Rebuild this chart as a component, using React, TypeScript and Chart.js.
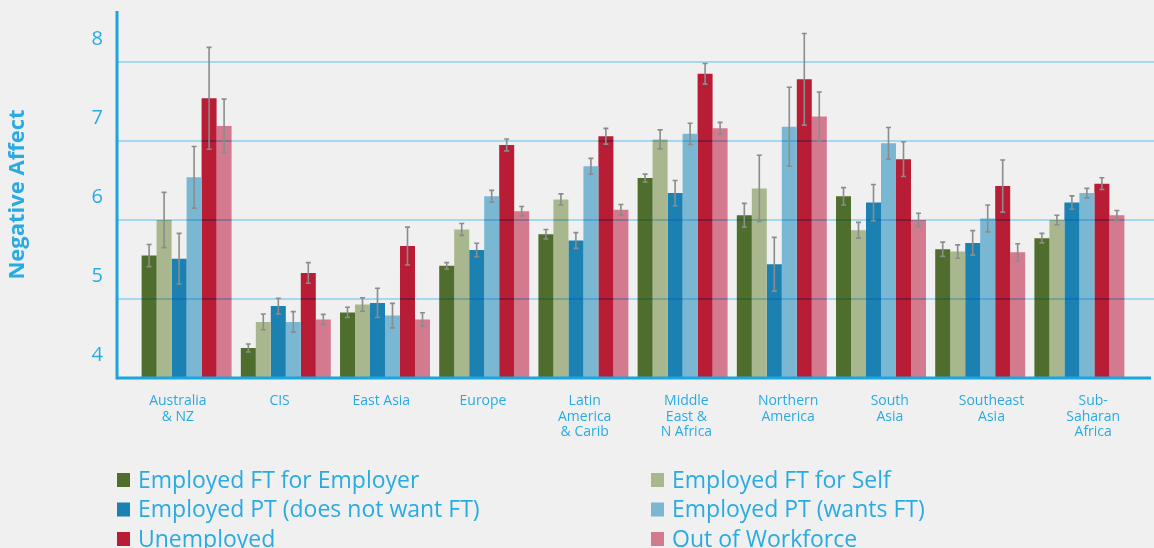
import React, { useEffect, useRef } from "react";
import { Chart, registerables } from "chart.js";

Chart.register(...registerables);

// ---------- data ----------
const regions = [
  "Australia & NZ",
  "CIS",
  "East Asia",
  "Europe",
  "Latin America & Carib",
  "Middle East & N Africa",
  "Northern America",
  "South Asia",
  "Southeast Asia",
  "Sub-Saharan Africa",
];
const xTickLabels: string[][] = [
  ["Australia", "& NZ"],
  ["CIS"],
  ["East Asia"],
  ["Europe"],
  ["Latin", "America", "& Carib"],
  ["Middle", "East &", "N Africa"],
  ["Northern", "America"],
  ["South", "Asia"],
  ["Southeast", "Asia"],
  ["Sub-", "Saharan", "Africa"],
];
const yTickValues = [4, 5, 6, 7, 8];
const yTitle = "Negative Affect";

const seriesNames = [
  "Employed FT for Employer",
  "Employed FT for Self",
  "Employed PT (does not want FT)",
  "Employed PT (wants FT)",
  "Unemployed",
  "Out of Workforce",
];
const seriesColors = ["#4f6e2e", "#a9b78f", "#1b80b2", "#7ab7d3", "#b81d35", "#d47a8f"];

const ftEmployer = [5.55, 4.38, 4.83, 5.42, 5.82, 6.53, 6.06, 6.30, 5.63, 5.77];
const ftSelf = [6.0, 4.71, 4.93, 5.88, 6.26, 7.02, 6.4, 5.87, 5.6, 6.0];
const ptNotWant = [5.51, 4.91, 4.95, 5.62, 5.74, 6.34, 5.44, 6.22, 5.71, 6.22];
const ptWants = [6.54, 4.71, 4.79, 6.3, 6.68, 7.09, 7.18, 6.97, 6.02, 6.34];
const unemployed = [7.54, 5.33, 5.67, 6.95, 7.06, 7.85, 7.78, 6.77, 6.43, 6.46];
const outOfWorkforce = [7.19, 4.74, 4.74, 6.11, 6.13, 7.16, 7.31, 6.0, 5.59, 6.06];

const ftEmployerErr = [0.14, 0.05, 0.065, 0.04, 0.06, 0.05, 0.15, 0.11, 0.09, 0.06];
const ftSelfErr = [0.35, 0.1, 0.085, 0.075, 0.07, 0.12, 0.42, 0.1, 0.085, 0.06];
const ptNotWantErr = [0.32, 0.1, 0.185, 0.085, 0.1, 0.16, 0.34, 0.23, 0.155, 0.085];
const ptWantsErr = [0.39, 0.13, 0.155, 0.075, 0.1, 0.135, 0.5, 0.2, 0.17, 0.06];
const unemployedErr = [0.645, 0.13, 0.24, 0.075, 0.1, 0.13, 0.58, 0.22, 0.33, 0.075];
const outOfWorkforceErr = [0.34, 0.065, 0.085, 0.06, 0.065, 0.075, 0.31, 0.085, 0.11, 0.06];

const seriesValues = [ftEmployer, ftSelf, ptNotWant, ptWants, unemployed, outOfWorkforce];
const seriesErrors = [ftEmployerErr, ftSelfErr, ptNotWantErr, ptWantsErr, unemployedErr, outOfWorkforceErr];

const BLUE_TEXT = "#29abe2";
const AXIS_BLUE = "#1ba6e0";
const FONT = "'Open Sans', 'DejaVu Sans', sans-serif";

export default function App() {
  const ref = useRef<HTMLCanvasElement | null>(null);

  useEffect(() => {
    document.body.style.margin = "0";
    document.body.style.background = "#f0f0f0";
    const canvas = ref.current;
    if (!canvas) return;

    const overlay = {
      id: "overlay",
      beforeDraw(chart: any) {
        const c = chart.ctx;
        c.save();
        c.fillStyle = "#f0f0f0";
        c.fillRect(0, 0, chart.width, chart.height);
        c.restore();
      },
      afterDatasetsDraw(chart: any) {
        const c = chart.ctx;
        const ca = chart.chartArea;
        const ys = chart.scales.y;
        const axisX = ca.left - 20;
        // gridlines (drawn over bars, multiply)
        c.save();
        c.globalCompositeOperation = "multiply";
        c.strokeStyle = "#aee5ff";
        c.lineWidth = 2;
        for (const v of yTickValues) {
          if (v === yTickValues[0]) continue;
          const py = Math.round(ys.getPixelForValue(v));
          c.beginPath();
          c.moveTo(axisX, py);
          c.lineTo(chart.width, py);
          c.stroke();
        }
        c.restore();
        // error bars
        c.save();
        c.strokeStyle = "#8c8c8c";
        c.lineWidth = 1.6;
        seriesValues.forEach((vals, di) => {
          const meta = chart.getDatasetMeta(di);
          meta.data.forEach((bar: any, j: number) => {
            const e = seriesErrors[di][j];
            const top = ys.getPixelForValue(vals[j] + e);
            const bot = ys.getPixelForValue(vals[j] - e);
            const x = bar.x;
            c.beginPath();
            c.moveTo(x, top);
            c.lineTo(x, bot);
            c.moveTo(x - 2.5, top);
            c.lineTo(x + 2.5, top);
            c.moveTo(x - 2.5, bot);
            c.lineTo(x + 2.5, bot);
            c.stroke();
          });
        });
        c.restore();
        // axis lines
        c.save();
        c.strokeStyle = AXIS_BLUE;
        c.lineWidth = 3;
        const by = ys.getPixelForValue(yTickValues[0]);
        c.beginPath();
        c.moveTo(axisX, ca.top);
        c.lineTo(axisX, by + 1.5);
        c.stroke();
        c.beginPath();
        c.moveTo(axisX, by);
        c.lineTo(chart.width - 3, by);
        c.stroke();
        c.restore();
      },
      afterDraw(chart: any) {
        const c = chart.ctx;
        const ca = chart.chartArea;
        const startX = ca.left - 20;
        c.save();
        c.font = `23px ${FONT}`;
        c.textBaseline = "middle";
        seriesNames.forEach((name, i) => {
          const col = i % 2;
          const row = Math.floor(i / 2);
          const x = startX + col * 534;
          const y = 480 + row * 29.5;
          c.fillStyle = seriesColors[i];
          c.fillRect(x, y - 7, 13, 14);
          c.fillStyle = BLUE_TEXT;
          c.fillText(name, x + 21, y + 1);
        });
        c.restore();
      },
    };

    const chart = new Chart(canvas, {
      type: "bar",
      data: {
        labels: regions,
        datasets: seriesNames.map((name, i) => ({
          label: name,
          data: seriesValues[i],
          backgroundColor: seriesColors[i],
          borderWidth: 0,
          xAxisID: "x",
          yAxisID: "y",
        })),
      },
      options: {
        responsive: false,
        animation: false,
        devicePixelRatio: 1,
        layout: { padding: { left: 0, right: 25, top: 11, bottom: 0 } },
        datasets: {
          bar: { categoryPercentage: 0.907, barPercentage: 1 },
        },
        plugins: {
          legend: { display: false },
          tooltip: { enabled: false },
          title: { display: false },
        },
        scales: {
          x: {
            type: "category",
            display: false,
            offset: true,
          },
          x2: {
            type: "linear",
            position: "bottom",
            offset: false,
            bounds: "data",
            min: -0.402,
            max: 9.352,
            grid: { display: false, offset: false },
            border: { display: false },
            afterBuildTicks: (scale: any) => {
              scale.ticks = xTickLabels.map((_, i) => ({ value: i }));
            },
            afterFit: (scale: any) => {
              scale.height = 170;
              scale.paddingLeft = 0;
              scale.paddingRight = 0;
            },
            ticks: {
              autoSkip: false,
              maxRotation: 0,
              minRotation: 0,
              padding: 7,
              color: BLUE_TEXT,
              font: { family: FONT, size: 14, lineHeight: 1.12 },
              callback: (_v: any, i: number) => xTickLabels[i],
            },
          },
          y: {
            type: "linear",
            min: 4,
            max: 8.645,
            grid: { display: false, drawTicks: false },
            border: { display: false },
            afterBuildTicks: (scale: any) => {
              scale.ticks = yTickValues.map((v) => ({ value: v }));
            },
            afterFit: (scale: any) => {
              scale.width = 137;
              scale.paddingTop = 0;
              scale.paddingBottom = 0;
            },
            ticks: {
              padding: 34,
              labelOffset: -23,
              color: BLUE_TEXT,
              font: { family: FONT, size: 20 },
            },
            title: {
              display: true,
              text: yTitle,
              color: BLUE_TEXT,
              font: { family: FONT, size: 22, weight: "bold" },
              padding: { top: 5, bottom: 0 },
            },
          },
        },
      },
      plugins: [overlay],
    } as any);

    return () => chart.destroy();
  }, []);

  return (
    <div style={{ width: 1154, height: 548, background: "#f0f0f0" }}>
      <canvas ref={ref} width={1154} height={548} />
    </div>
  );
}
